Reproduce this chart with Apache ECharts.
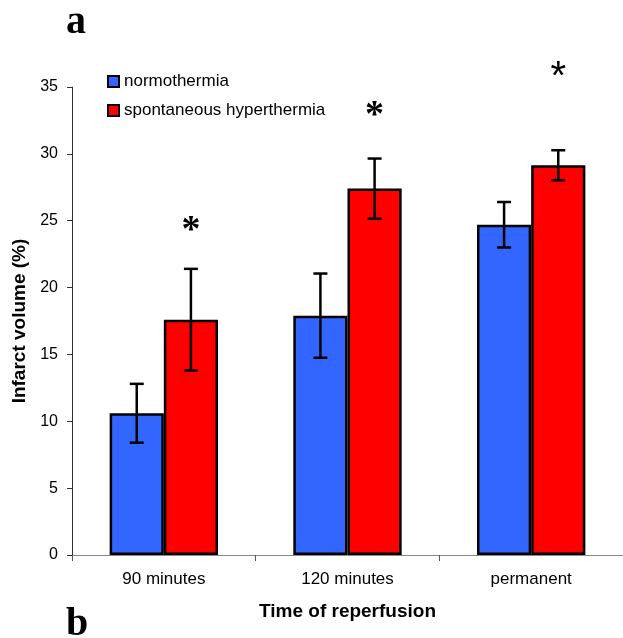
<!DOCTYPE html>
<html>
<head>
<meta charset="utf-8">
<script src="https://cdn.jsdelivr.net/npm/echarts@6/dist/echarts.min.js"></script>
<style>
html,body{margin:0;padding:0;background:#fff;}
#chart{width:623px;height:638px;}
</style>
</head>
<body>
<div id="chart"></div>
<script>
// ---- data ----
var categories = ['90 minutes', '120 minutes', 'permanent'];
var seriesNames = ['normothermia', 'spontaneous hyperthermia'];
var normoMean = [10.6, 17.9, 24.7];
var normoErr = [2.2, 3.15, 1.7];
var hyperMean = [17.6, 27.4, 29.15];
var hyperErr = [3.8, 2.25, 1.12];
var sigY = [24.7, 33.3, 36.2];       // asterisk heights (axis units)
var sigText = ['*', '*', '*'];
var yTicks = [0, 5, 10, 15, 20, 25, 30, 35];

var CAT_GAP = 0.41;                      // share of band left empty
var BAR_FRACTION = (1 - CAT_GAP) / 2;    // bar width as share of band

function errData(mean, err) {
  return mean.map(function (m, i) { return [i, m - err[i], m + err[i]]; });
}

function errorBarSeries(mean, err, side) {
  return {
    type: 'custom',
    silent: true,
    z: 10,
    renderItem: function (params, api) {
      var band = api.size([1, 0])[0];
      var bw = band * BAR_FRACTION;
      var i = api.value(0);
      var lo = api.coord([i, api.value(1)]);
      var hi = api.coord([i, api.value(2)]);
      var x = lo[0] + side * bw / 2;
      var cap = 7;
      var st = { stroke: '#000', lineWidth: 2.5 };
      return {
        type: 'group',
        children: [
          { type: 'line', shape: { x1: x, y1: lo[1], x2: x, y2: hi[1] }, style: st },
          { type: 'line', shape: { x1: x - cap, y1: hi[1], x2: x + cap, y2: hi[1] }, style: st },
          { type: 'line', shape: { x1: x - cap, y1: lo[1], x2: x + cap, y2: lo[1] }, style: st }
        ]
      };
    },
    encode: { x: 0, y: [1, 2] },
    data: errData(mean, err)
  };
}

var chart = echarts.init(document.getElementById('chart'), null, { renderer: 'canvas' });

var option = {
  animation: false,
  backgroundColor: '#fff',
  grid: { left: 72, top: 87, width: 557, height: 468, containLabel: false },
  legend: {
    orient: 'vertical',
    left: 107,
    top: 73,
    padding: 0,
    itemWidth: 11,
    itemHeight: 11,
    itemGap: 12,
    icon: 'rect',
    data: seriesNames,
    itemStyle: { borderColor: '#000', borderWidth: 2 },
    textStyle: { fontFamily: 'Liberation Sans, Arial, sans-serif', fontSize: 17, color: '#000', lineHeight: 17 }
  },
  xAxis: {
    type: 'category',
    data: categories,
    name: 'Time of reperfusion',
    nameLocation: 'middle',
    nameGap: 47,
    nameTextStyle: { fontFamily: 'Liberation Sans, Arial, sans-serif', fontSize: 19, fontWeight: 'bold', color: '#000' },
    axisLine: { lineStyle: { color: '#888', width: 1 } },
    axisTick: { show: true, length: 6, lineStyle: { color: '#555' } },
    axisLabel: { margin: 16, fontFamily: 'Liberation Sans, Arial, sans-serif', fontSize: 17, color: '#000' },
    splitLine: { show: false }
  },
  yAxis: {
    type: 'value',
    min: yTicks[0],
    max: yTicks[yTicks.length - 1],
    interval: yTicks[1] - yTicks[0],
    name: 'Infarct volume (%)',
    nameLocation: 'middle',
    nameGap: 40,
    nameTextStyle: { fontFamily: 'Liberation Sans, Arial, sans-serif', fontSize: 19, fontWeight: 'bold', color: '#000' },
    axisLine: { show: true, lineStyle: { color: '#333', width: 1 } },
    axisTick: { show: true, length: 5, lineStyle: { color: '#333' } },
    axisLabel: { margin: 14, fontFamily: 'Liberation Sans, Arial, sans-serif', fontSize: 16, color: '#000' },
    splitLine: { show: false }
  },
  series: [
    {
      name: seriesNames[0],
      type: 'bar',
      data: normoMean,
      barGap: '0%',
      barCategoryGap: (CAT_GAP * 100) + '%',
      itemStyle: { color: '#3366FF', borderColor: '#000', borderWidth: 2.5 }
    },
    {
      name: seriesNames[1],
      type: 'bar',
      data: hyperMean,
      barGap: '0%',
      barCategoryGap: (CAT_GAP * 100) + '%',
      itemStyle: { color: '#FF0000', borderColor: '#000', borderWidth: 2.5 }
    },
    errorBarSeries(normoMean, normoErr, -1),
    errorBarSeries(hyperMean, hyperErr, 1),
    {
      type: 'custom',
      silent: true,
      z: 10,
      renderItem: function (params, api) {
        var band = api.size([1, 0])[0];
        var bw = band * BAR_FRACTION;
        var i = api.value(0);
        var p = api.coord([i, api.value(1)]);
        var last = i === 2;
        var fs = last ? 40 : 38;
        return {
          type: 'text',
          x: p[0] + bw / 2,
          y: p[1] + fs * 0.17,
          style: {
            text: sigText[i],
            fontSize: fs,
            fontWeight: last ? 'normal' : 'bold',
            fontFamily: last ? 'Liberation Sans, Arial, sans-serif' : 'Liberation Serif, Times New Roman, serif',
            fill: '#000',
            align: 'center',
            verticalAlign: 'middle'
          }
        };
      },
      clip: false,
      data: sigY.map(function (v, i) { return [i, v]; })
    }
  ],
  graphic: [
    { type: 'text', left: 66, top: 3, style: { text: 'a', fontSize: 40, fontWeight: 'bold', fontFamily: 'Liberation Serif, Times New Roman, serif', fill: '#000' } },
    { type: 'text', left: 66, top: 605, style: { text: 'b', fontSize: 40, fontWeight: 'bold', fontFamily: 'Liberation Serif, Times New Roman, serif', fill: '#000' } }
  ]
};
chart.setOption(option);
</script>
</body>
</html>
